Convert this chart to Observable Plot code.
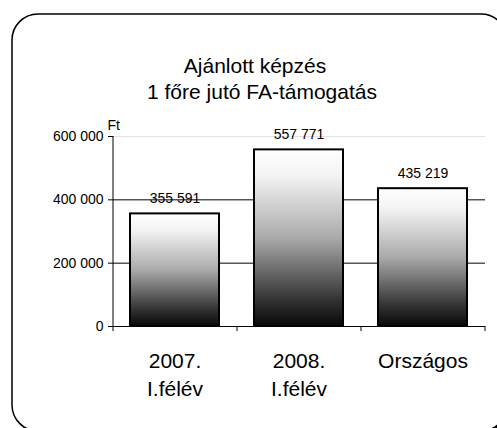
<!DOCTYPE html>
<html>
<head>
<meta charset="utf-8">
<script src="https://cdn.jsdelivr.net/npm/d3@7"></script>
<script src="https://cdn.jsdelivr.net/npm/@observablehq/plot@0.6"></script>
<style>
  html, body { margin: 0; padding: 0; background: #fff; overflow: hidden; }
  #wrap { position: relative; width: 497px; height: 428px; overflow: hidden; font-family: "Liberation Sans", Arial, sans-serif; }
  #frame { position: absolute; left: 0; top: 0; }
  .t { position: absolute; width: 400px; text-align: center; font-size: 21px; line-height: 26px; color: #000; white-space: nowrap; }
  #chart { position: absolute; left: 0; top: 0; }
</style>
</head>
<body>
<div id="wrap">
  <svg id="frame" width="497" height="428">
    <rect x="16" y="18" width="495" height="417" rx="26" ry="26" fill="#000"></rect>
    <rect x="12" y="14" width="495" height="417" rx="26" ry="26" fill="#fff" stroke="#000" stroke-width="1.5"></rect>
  </svg>
  <div class="t" id="t1" style="left:55px; top:53px;"></div>
  <div class="t" id="t2" style="left:62px; top:79px;"></div>
  <div id="chart"></div>
</div>
<script>
const titleLines = ["Ajánlott képzés", "1 főre jutó FA-támogatás"];
const categories = ["2007.\nI.félév", "2008.\nI.félév", "Országos"];
const values = [355591, 557771, 435219];
const yTicks = [0, 200000, 400000, 600000];
const yUnit = "Ft";

document.getElementById("t1").textContent = titleLines[0];
document.getElementById("t2").textContent = titleLines[1];

const fmt = v => d3.format(",")(v).replace(/,/g, " ");
const data = categories.map((c, i) => ({cat: c, value: values[i]}));

const gradientDefs = () => {
  const defs = d3.create("svg:defs");
  const lg = defs.append("linearGradient").attr("id", "barGrad")
    .attr("x1", 0).attr("y1", 0).attr("x2", 0).attr("y2", 1);
  [[0, "#ffffff"], [0.15, "#f3f3f3"], [0.5, "#aaaaaa"], [0.85, "#333333"], [1, "#080808"]]
    .forEach(([o, c]) => lg.append("stop").attr("offset", o).attr("stop-color", c));
  return defs.node();
};

const half = 62;

const chart = Plot.plot({
  width: 497,
  height: 428,
  marginLeft: 113,
  marginRight: 12,
  marginTop: 136,
  marginBottom: 102,
  style: {fontFamily: "'Liberation Sans', Arial, sans-serif", fontSize: "14px", background: "transparent", color: "#000", overflow: "visible"},
  x: {domain: categories, paddingInner: 0.28, paddingOuter: 0.14, axis: null},
  y: {domain: [0, 600000], ticks: yTicks, tickSize: 5, tickPadding: 5, tickFormat: fmt, label: null},
  marks: [
    gradientDefs,
    Plot.ruleY([600000], {stroke: "#e2e2e2", strokeWidth: 1}),
    Plot.ruleY([200000, 400000], {stroke: "#000", strokeWidth: 1}),
    Plot.barY(data, {x: "cat", y: "value", fill: "url(#barGrad)", stroke: "#000", strokeWidth: 2}),
    Plot.ruleY([0], {stroke: "#000", strokeWidth: 1}),
    Plot.ruleX([categories[0]], {x: d => d, y1: 0, y2: 600000, dx: -half, stroke: "#000"}),
    Plot.ruleX(categories, {x: d => d, y1: 0, y2: 0, insetBottom: -5, dx: -half, stroke: "#000"}),
    Plot.ruleX([categories[categories.length - 1]], {x: d => d, y1: 0, y2: 0, insetBottom: -5, dx: half, stroke: "#000"}),
    Plot.text(data, {x: "cat", y: "value", text: d => fmt(d.value), dy: -11, lineAnchor: "bottom", fontSize: 14}),
    Plot.text(categories, {x: d => d, frameAnchor: "bottom", lineAnchor: "top", dy: 22, lineHeight: 1.33, fontSize: 21}),
    Plot.text([yUnit], {frameAnchor: "top-left", textAnchor: "start", lineAnchor: "bottom", dx: -6, dy: -7, fontSize: 14})
  ]
});
document.getElementById("chart").appendChild(chart);
</script>
</body>
</html>
